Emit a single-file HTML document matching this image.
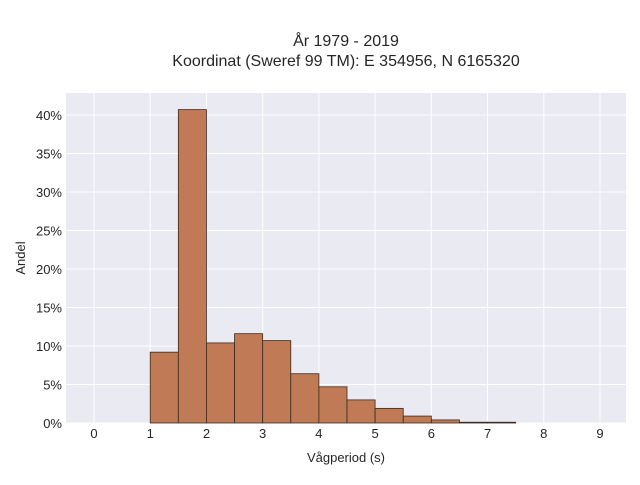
<!DOCTYPE html>
<html><head><meta charset="utf-8"><style>
body{margin:0;background:#fff;font-family:"Liberation Sans",sans-serif;}
svg text{font-family:"Liberation Sans",sans-serif;fill:#262626;}
</style></head><body>
<svg id="chart" width="640" height="480">
<text x="346" y="46" font-size="16" text-anchor="middle">År 1979 - 2019</text>
<text x="346" y="66" font-size="16" text-anchor="middle">Koordinat (Sweref 99 TM): E 354956, N 6165320</text>
<rect x="66" y="93" width="560" height="330" fill="#eaeaf2"/>
<g id="grid"></g><g id="bars"></g><g id="ticks"></g>
<text x="346" y="462" font-size="13" text-anchor="middle">Vågperiod (s)</text>
<text transform="translate(25,258) rotate(-90)" font-size="13" text-anchor="middle">Andel</text>
</svg>
<script>
const binStarts=[1,1.5,2,2.5,3,3.5,4,4.5,5,5.5,6,6.5,7];
const binWidth=0.5;
const shares=[9.2,40.7,10.4,11.6,10.7,6.4,4.7,3.0,1.9,0.9,0.4,0.1,0.1];
const xTicks=[0,1,2,3,4,5,6,7,8,9];
const yTicks=[0,5,10,15,20,25,30,35,40];
const ns="http://www.w3.org/2000/svg";
const X=v=>94+v*(600-94)/9;
const Y=v=>423-v*7.7;
function mk(tag,attrs,parent){const e=document.createElementNS(ns,tag);for(const k in attrs)e.setAttribute(k,attrs[k]);document.getElementById(parent).appendChild(e);return e;}
xTicks.forEach(t=>{
 const l=mk('line',{x1:X(t),x2:X(t),y1:93,y2:423,stroke:'#fff','stroke-width':1},'grid');
 
 
 const tx=mk('text',{x:X(t),y:438,'font-size':13,'text-anchor':'middle'},'ticks');tx.textContent=t;
 
 
});
yTicks.forEach(t=>{
 const l=mk('line',{x1:66,x2:626,y1:Y(t),y2:Y(t),stroke:'#fff','stroke-width':1},'grid');
 
 
 const tx=mk('text',{x:62,y:Y(t)+5,'font-size':13,'text-anchor':'end'},'ticks');tx.textContent=t+'%';
 
 
});
binStarts.forEach((s,i)=>{
 const r=mk('rect',{x:X(s),y:Y(shares[i]),width:X(s+binWidth)-X(s),height:Y(0)-Y(shares[i]),fill:'#c07a56',stroke:'#3a2a20','stroke-width':0.8},'bars');
 
 
});
</script>
</body></html>
